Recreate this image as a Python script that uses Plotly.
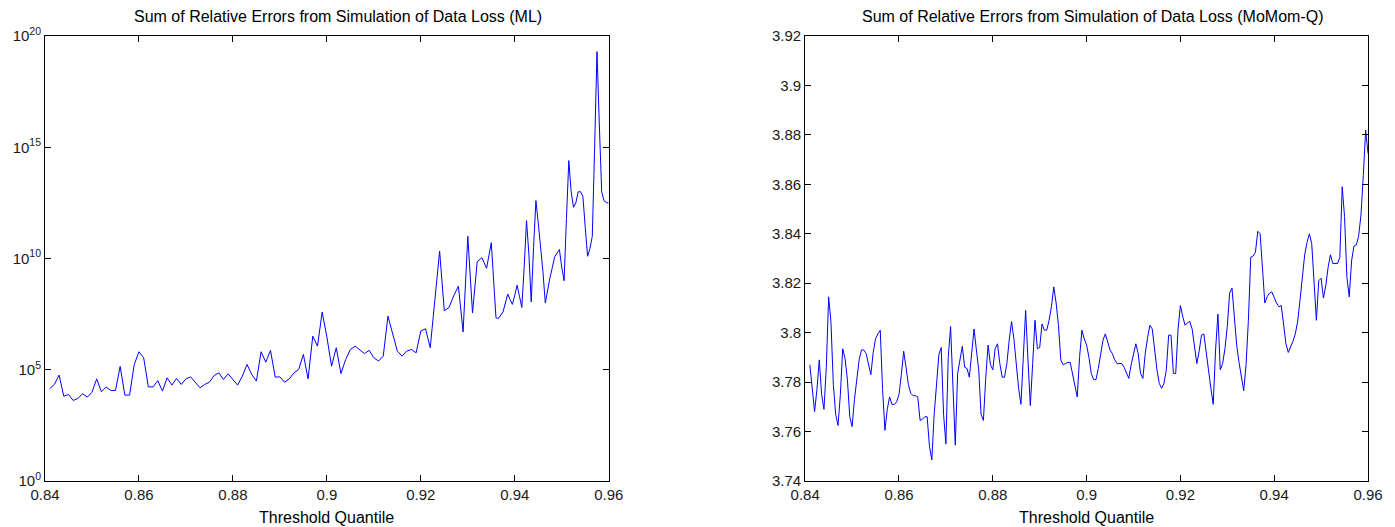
import numpy as np
import plotly.graph_objects as go

# Threshold quantiles: the ML run is stored at 0.001 spacing up to 0.935,
# then at 0.0005 spacing; the MoMom-Q run is at 0.0005 spacing throughout.
ml_q_head = np.round(0.841 + 0.001 * np.arange(95), 4)
ml_q_tail = np.round(0.936 + 0.0005 * np.arange(49), 4)

# log10 of the summed relative errors (ML estimator)
ml_log10_head = [
    4.15, 4.34, 4.76, 3.81, 3.89, 3.62, 3.71, 3.92, 3.77, 3.99,
    4.59, 4.01, 4.22, 4.07, 4.07, 5.15, 3.86, 3.86, 5.24, 5.81,
    5.54, 4.23, 4.23, 4.51, 4.04, 4.64, 4.31, 4.61, 4.34, 4.59,
    4.68, 4.44, 4.19, 4.34, 4.44, 4.74, 4.86, 4.56, 4.82, 4.56,
    4.31, 4.71, 5.24, 4.79, 4.49, 5.81, 5.34, 5.87, 4.67, 4.68,
    4.44, 4.59, 4.86, 5.01, 5.69, 4.59, 6.51, 6.06, 7.59, 6.48,
    5.16, 5.99, 4.83, 5.46, 5.91, 6.06, 5.88, 5.73, 5.87, 5.54,
    5.39, 5.61, 7.41, 6.59, 5.84, 5.61, 5.84, 5.91, 5.76, 6.74,
    6.84, 5.99, 8.31, 10.33, 7.65, 7.80, 8.32, 8.76, 6.70, 11.0,
    7.55, 9.85, 10.04, 9.56, 10.71,
]
ml_log10_tail = [
    7.34, 7.30, 7.45, 7.60, 8.00, 8.40, 8.15, 7.94, 8.35, 8.80,
    8.30, 7.80, 9.60, 11.7, 10.2, 8.05, 10.5, 12.6, 11.6, 10.6,
    9.40, 8.00, 8.60, 9.15, 9.60, 10.08, 10.25, 10.4, 9.60, 9.00,
    11.8, 14.4, 13.0, 12.3, 12.5, 13.0, 13.0, 12.8, 11.4, 10.1,
    10.45, 11.0, 15.0, 19.3, 16.0, 13.0, 12.6, 12.51, 12.5,
]

mm_q = np.round(0.841 + 0.0005 * np.arange(239), 4)
# summed relative errors (MoMom-Q estimator)
mm_err = [
    3.787, 3.776, 3.768, 3.777, 3.789, 3.775, 3.769, 3.786, 3.8145, 3.804,
    3.779, 3.767, 3.7625, 3.775, 3.7935, 3.7895, 3.781, 3.766, 3.762, 3.773,
    3.781, 3.789, 3.793, 3.793, 3.7915, 3.7875, 3.783, 3.792, 3.7975, 3.7995,
    3.801, 3.777, 3.7605, 3.769, 3.774, 3.771, 3.771, 3.772, 3.775, 3.783,
    3.7925, 3.786, 3.779, 3.7755, 3.7745, 3.7745, 3.774, 3.7645, 3.765, 3.766,
    3.766, 3.754, 3.7485, 3.767, 3.781, 3.791, 3.794, 3.767, 3.755, 3.79,
    3.8025, 3.778, 3.7545, 3.7835, 3.790, 3.7945, 3.786, 3.7855, 3.782, 3.793,
    3.8015, 3.793, 3.785, 3.767, 3.7645, 3.782, 3.795, 3.787, 3.785, 3.7935,
    3.7955, 3.7875, 3.782, 3.782, 3.7875, 3.797, 3.8045, 3.7975, 3.786, 3.7775,
    3.771, 3.7915, 3.809, 3.789, 3.7705, 3.7875, 3.805, 3.7935, 3.794, 3.8035,
    3.801, 3.801, 3.805, 3.8105, 3.8185, 3.812, 3.803, 3.789, 3.787, 3.7875,
    3.788, 3.788, 3.7835, 3.778, 3.774, 3.790, 3.801, 3.7975, 3.795, 3.790,
    3.7835, 3.781, 3.781, 3.7855, 3.7915, 3.797, 3.7995, 3.796, 3.793, 3.7915,
    3.789, 3.7875, 3.7875, 3.7875, 3.786, 3.7835, 3.7815, 3.787, 3.7915, 3.7955,
    3.7915, 3.7835, 3.7815, 3.7915, 3.798, 3.803, 3.8015, 3.793, 3.785, 3.7795,
    3.7775, 3.7795, 3.785, 3.799, 3.799, 3.7835, 3.7835, 3.8015, 3.811, 3.8065,
    3.803, 3.804, 3.8045, 3.8015, 3.795, 3.7875, 3.7925, 3.799, 3.7995, 3.7915,
    3.785, 3.7775, 3.771, 3.793, 3.8075, 3.785, 3.7875, 3.7935, 3.8025, 3.816,
    3.818, 3.8045, 3.795, 3.788, 3.782, 3.7765, 3.787, 3.805, 3.8305, 3.831,
    3.8325, 3.841, 3.840, 3.824, 3.812, 3.8145, 3.816, 3.8165, 3.814, 3.812,
    3.8105, 3.811, 3.8035, 3.7955, 3.792, 3.794, 3.7965, 3.7995, 3.8045, 3.813,
    3.8225, 3.8315, 3.8365, 3.840, 3.836, 3.818, 3.805, 3.821, 3.822, 3.814,
    3.819, 3.8265, 3.8315, 3.828, 3.828, 3.828, 3.8305, 3.859, 3.847, 3.8225,
    3.8145, 3.829, 3.835, 3.8355, 3.839, 3.8475, 3.8635, 3.882, 3.8725,
]

x_ticks = [0.84, 0.86, 0.88, 0.90, 0.92, 0.94, 0.96]
x_tick_text = ["0.84", "0.86", "0.88", "0.9", "0.92", "0.94", "0.96"]
ml_ticks = [1e0, 1e5, 1e10, 1e15, 1e20]
ml_tick_text = ["10<sup>0</sup>", "10<sup>5</sup>", "10<sup>10</sup>",
                "10<sup>15</sup>", "10<sup>20</sup>"]
mm_ticks = [3.74, 3.76, 3.78, 3.80, 3.82, 3.84, 3.86, 3.88, 3.90, 3.92]
mm_tick_text = ["3.74", "3.76", "3.78", "3.8", "3.82", "3.84", "3.86",
                "3.88", "3.9", "3.92"]

titles = ["Sum of Relative Errors from Simulation of Data Loss (ML)",
          "Sum of Relative Errors from Simulation of Data Loss (MoMom-Q)"]
x_title = "Threshold Quantile"

FONT = "Liberation Sans, Arial, Helvetica, sans-serif"
LINE_BLUE = "#0000ff"

ml_q = np.concatenate([ml_q_head, ml_q_tail])
ml_err = 10.0 ** np.array(ml_log10_head + ml_log10_tail)

fig = go.Figure()
fig.add_trace(go.Scatter(x=ml_q, y=ml_err, mode="lines",
                         line=dict(color=LINE_BLUE, width=1),
                         xaxis="x", yaxis="y", showlegend=False))
fig.add_trace(go.Scatter(x=mm_q, y=mm_err, mode="lines",
                         line=dict(color=LINE_BLUE, width=1),
                         xaxis="x2", yaxis="y2", showlegend=False))

axis_style = dict(showline=True, linecolor="black", linewidth=1, mirror="ticks",
                  ticks="inside", ticklen=6, tickwidth=1, tickcolor="black",
                  showgrid=False, zeroline=False,
                  tickfont=dict(family=FONT, size=15, color="#1a1a1a"))

left_dom = [0.0, 0.4261]
right_dom = [0.5746, 1.0]

fig.update_layout(
    width=1395, height=527,
    margin=dict(l=45, r=17, t=36, b=46),
    paper_bgcolor="white", plot_bgcolor="white",
    xaxis=dict(domain=left_dom, range=[0.84, 0.96], tickvals=x_ticks,
               ticktext=x_tick_text, anchor="y", **axis_style),
    yaxis=dict(type="log", range=[0, 20], tickvals=ml_ticks,
               ticktext=ml_tick_text, anchor="x", **axis_style),
    xaxis2=dict(domain=right_dom, range=[0.84, 0.96], tickvals=x_ticks,
                ticktext=x_tick_text, anchor="y2", **axis_style),
    yaxis2=dict(range=[3.74, 3.92], tickvals=mm_ticks,
                ticktext=mm_tick_text, anchor="x2", **axis_style),
)

# titles sit a little right of each panel's centre
title_x = [0.2213, 0.7915]
for dom, tx, title in zip([left_dom, right_dom], title_x, titles):
    cx = (dom[0] + dom[1]) / 2
    fig.add_annotation(text=title, x=tx, y=1.0427, xref="paper", yref="paper",
                       xanchor="center", yanchor="middle", showarrow=False,
                       font=dict(family=FONT, size=16, color="black"))
    fig.add_annotation(text=x_title, x=cx, y=-0.083, xref="paper", yref="paper",
                       xanchor="center", yanchor="middle", showarrow=False,
                       font=dict(family=FONT, size=16, color="black"))

fig.write_html("out.html")
